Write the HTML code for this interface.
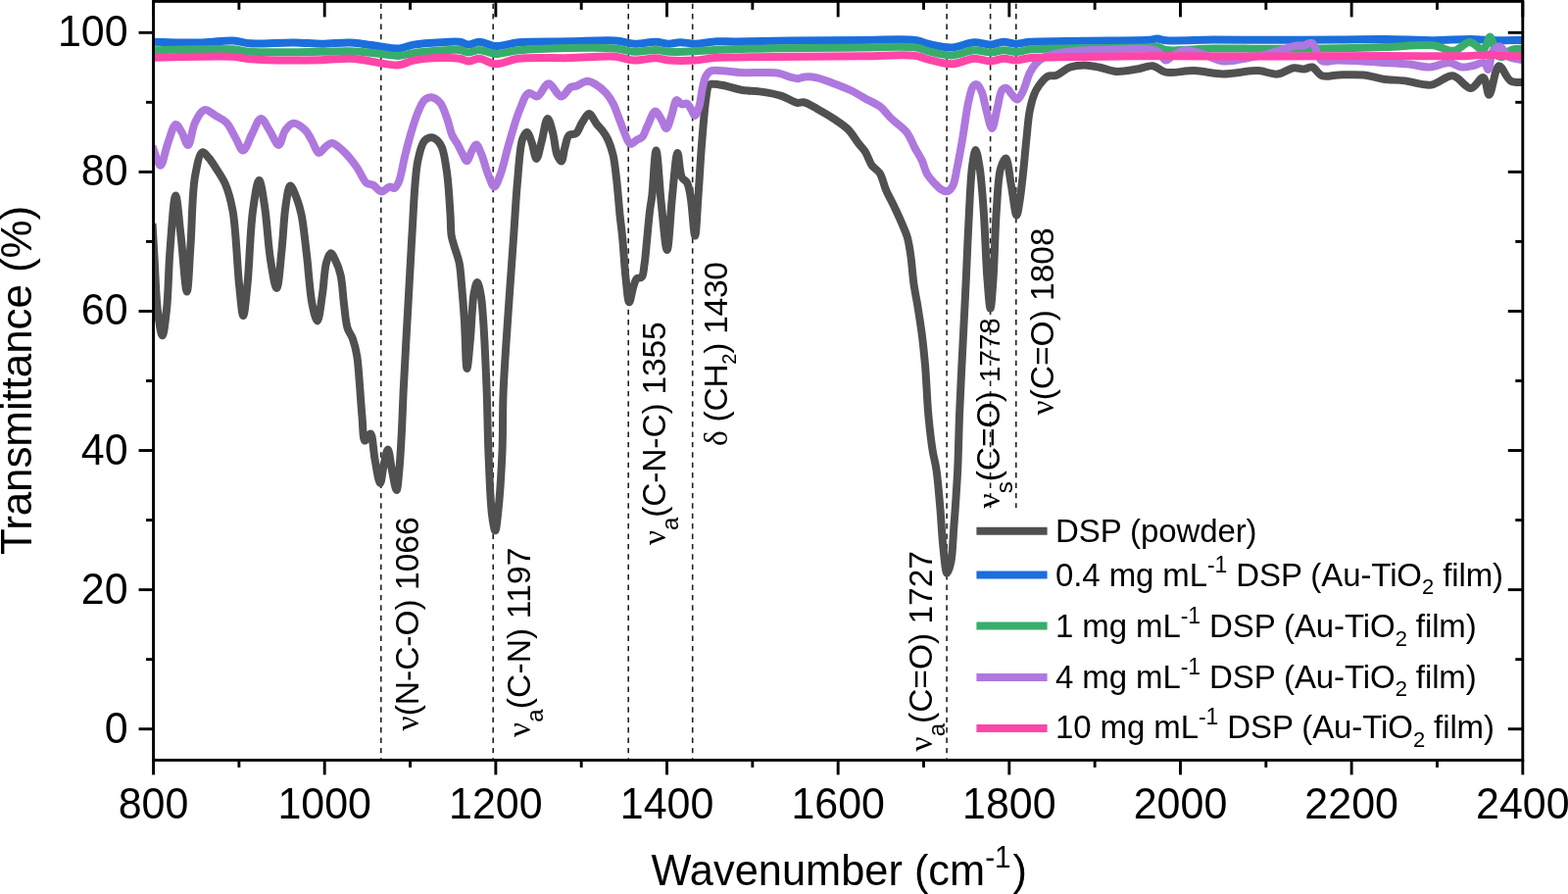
<!DOCTYPE html><html><head><meta charset="utf-8"><title>FTIR spectra</title><style>html,body{margin:0;padding:0;background:#fff;overflow:hidden}svg{display:block}</style></head><body>
<svg width="1600" height="912" viewBox="0 0 1600 912">
<rect width="1600" height="912" fill="#fff"/>
<defs><clipPath id="pc"><rect x="156.6" y="0" width="1397.2" height="775"/></clipPath></defs>
<line x1="388.8" y1="3.7" x2="388.8" y2="775.0" stroke="#222" stroke-width="1.6" stroke-dasharray="5.4,5"/>
<line x1="503.2" y1="3.7" x2="503.2" y2="775.0" stroke="#222" stroke-width="1.6" stroke-dasharray="5.4,5"/>
<line x1="641.2" y1="3.7" x2="641.2" y2="775.0" stroke="#222" stroke-width="1.6" stroke-dasharray="5.4,5"/>
<line x1="706.7" y1="3.7" x2="706.7" y2="775.0" stroke="#222" stroke-width="1.6" stroke-dasharray="5.4,5"/>
<line x1="966.1" y1="3.7" x2="966.1" y2="775.0" stroke="#222" stroke-width="1.6" stroke-dasharray="5.4,5"/>
<line x1="1010.6" y1="3.7" x2="1010.6" y2="518.0" stroke="#222" stroke-width="1.6" stroke-dasharray="5.4,5"/>
<line x1="1036.8" y1="3.7" x2="1036.8" y2="518.0" stroke="#222" stroke-width="1.6" stroke-dasharray="5.4,5"/>
<g clip-path="url(#pc)" fill="none" stroke-width="8" stroke-linejoin="round" stroke-linecap="butt">
<path d="M155.5,228.0 C156.2,239.3 156.7,249.3 157.5,262.0 C158.5,278.4 159.1,303.2 161.0,318.0 C162.3,327.8 164.2,342.3 165.7,342.3 C167.2,342.3 168.8,326.6 170.0,316.0 C171.8,299.9 171.9,274.8 173.5,255.0 C175.0,236.0 177.2,199.4 179.2,199.4 C180.9,199.4 182.7,225.3 184.5,240.0 C186.6,257.5 189.0,297.5 190.7,297.5 C192.3,297.5 193.2,267.4 194.5,250.0 C196.0,228.9 195.9,197.2 199.0,180.0 C200.9,169.6 203.2,156.4 206.5,155.4 C208.4,154.8 210.9,158.7 213.0,161.0 C215.5,163.7 217.5,167.2 220.0,171.0 C223.1,175.9 227.2,181.5 230.0,188.0 C233.3,195.8 235.4,203.6 237.5,215.0 C240.9,233.6 241.9,270.3 244.0,290.0 C245.4,302.9 246.8,322.0 248.2,322.0 C249.6,322.0 251.2,302.9 252.5,290.0 C254.5,270.3 255.3,234.5 258.0,215.0 C259.8,202.4 262.3,184.0 264.4,184.0 C266.3,184.0 268.3,199.7 270.0,210.0 C272.4,224.9 273.5,249.6 276.0,265.0 C277.8,276.3 280.5,294.1 282.3,294.0 C284.4,293.9 286.0,268.5 287.5,255.0 C289.1,240.6 289.6,222.0 291.5,210.0 C292.8,201.8 294.0,189.8 296.2,189.5 C298.0,189.3 301.1,198.2 303.0,203.0 C304.9,208.0 306.1,212.2 307.5,218.7 C309.7,229.1 311.2,245.6 313.0,260.0 C314.9,275.9 316.0,297.7 318.5,310.0 C320.0,317.4 322.2,327.6 323.8,327.5 C325.8,327.4 327.5,309.5 329.0,300.0 C330.6,289.8 330.9,275.5 333.0,268.0 C334.2,263.7 335.9,258.4 337.5,258.3 C338.9,258.2 340.6,262.2 342.0,265.0 C344.0,269.0 346.1,274.3 347.5,280.4 C349.4,288.6 349.8,300.8 351.0,310.2 C352.1,318.8 352.6,328.3 354.6,334.7 C356.0,339.1 358.3,341.2 359.8,345.3 C361.6,350.3 363.1,356.3 364.2,362.8 C365.6,370.8 366.0,380.4 366.8,390.0 C367.7,400.9 368.5,414.4 369.5,425.0 C370.3,433.9 370.3,449.1 372.1,449.6 C372.9,449.8 374.0,447.2 375.0,446.0 C376.0,444.8 377.3,442.3 378.2,442.6 C380.4,443.3 380.9,460.4 382.6,469.0 C384.2,477.2 386.3,493.0 387.9,493.0 C389.3,493.0 390.2,480.9 391.5,475.0 C392.8,469.3 394.5,458.4 395.8,458.4 C397.3,458.4 398.5,473.0 400.0,480.0 C401.4,486.8 403.4,500.1 404.6,500.0 C405.9,499.9 406.7,486.2 407.5,478.0 C408.5,467.6 409.1,454.9 409.8,442.6 C410.5,429.1 410.8,416.5 411.6,400.0 C412.7,377.3 414.5,345.8 416.0,319.0 C417.5,292.5 418.7,266.1 420.4,240.0 C422.1,214.5 422.8,181.4 426.3,164.2 C428.2,155.0 430.0,147.2 433.3,143.5 C435.3,141.3 438.2,140.2 440.4,140.2 C442.4,140.2 444.4,141.6 446.0,143.0 C447.9,144.7 449.5,146.9 450.9,150.2 C453.4,156.1 454.7,166.6 456.1,176.5 C457.9,189.2 458.8,208.7 459.6,220.4 C460.1,228.2 459.8,234.5 460.6,240.0 C461.2,244.1 462.2,246.6 463.3,250.5 C464.7,255.6 467.3,261.6 468.6,268.0 C470.1,275.4 470.4,283.7 471.2,292.6 C472.2,303.3 473.1,315.1 473.9,327.7 C474.9,342.5 475.3,376.0 476.5,376.0 C477.5,376.0 478.9,356.3 480.0,345.0 C481.3,331.4 481.7,310.2 483.5,300.0 C484.5,294.6 485.8,287.9 487.0,287.9 C488.2,287.9 489.6,295.1 490.5,300.0 C491.9,307.3 492.4,316.3 493.2,327.7 C494.5,346.1 495.8,377.0 496.7,400.0 C497.5,421.0 497.5,439.8 498.4,460.2 C499.3,481.4 500.2,510.6 502.0,525.0 C502.9,532.3 504.3,541.3 505.3,541.3 C506.6,541.3 507.9,525.4 509.0,515.0 C510.5,500.1 511.7,478.9 512.5,460.2 C513.3,440.6 512.7,421.5 513.6,400.0 C514.6,375.0 516.8,345.8 518.6,319.0 C520.4,292.5 522.5,263.9 524.2,240.0 C525.6,220.1 526.4,202.5 528.0,185.3 C529.5,169.8 530.3,149.4 533.3,141.4 C534.6,138.0 536.3,134.8 537.7,134.9 C539.4,135.0 541.0,141.1 542.5,145.0 C544.3,149.8 545.7,161.9 547.4,161.9 C549.1,161.9 550.8,151.1 552.5,145.0 C554.6,137.7 556.6,121.0 558.8,120.9 C560.5,120.8 562.5,129.7 564.0,135.0 C565.9,141.7 566.4,152.8 568.5,158.0 C569.7,161.0 571.6,164.8 572.8,164.6 C574.5,164.3 575.1,154.6 576.5,150.0 C577.8,145.7 578.3,140.1 580.7,137.9 C582.5,136.3 585.7,137.6 587.7,136.1 C590.4,134.1 591.7,128.4 594.0,125.0 C596.2,121.8 598.6,116.0 601.0,116.0 C603.6,116.0 606.5,123.5 609.0,126.7 C611.1,129.3 613.1,131.2 615.0,133.7 C617.0,136.4 618.8,139.0 620.4,142.5 C622.4,146.9 624.2,152.3 625.6,158.2 C627.3,165.4 628.0,173.7 629.1,182.8 C630.4,193.9 631.5,209.2 632.6,220.0 C633.5,228.3 634.3,233.5 635.1,242.1 C636.3,253.9 637.2,272.1 638.6,284.2 C639.6,293.4 640.6,308.2 642.1,308.3 C643.3,308.4 644.8,297.0 646.3,292.6 C647.4,289.3 648.1,285.8 649.8,284.2 C651.1,283.0 653.5,284.1 654.7,282.8 C656.7,280.7 656.7,275.3 657.5,270.2 C658.7,262.7 659.4,251.5 660.4,242.1 C661.3,232.7 662.2,221.7 663.2,214.0 C663.9,208.5 664.6,206.0 665.3,200.0 C666.6,189.0 668.0,153.5 669.5,153.5 C671.2,153.5 673.0,192.3 675.0,210.0 C676.8,225.9 678.9,255.0 680.7,255.0 C682.6,255.0 684.1,217.3 686.0,200.0 C687.7,184.5 689.5,156.0 691.4,156.0 C692.8,156.0 693.2,176.0 695.8,181.0 C697.2,183.7 699.6,183.9 701.0,186.3 C702.9,189.7 703.5,194.5 704.6,200.4 C706.4,210.3 707.9,240.5 709.2,240.5 C710.5,240.5 711.4,214.4 712.5,200.0 C713.7,183.7 714.6,164.7 716.0,147.7 C717.3,131.5 718.8,111.3 720.4,100.4 C721.3,94.5 721.6,89.0 723.2,87.0 C724.0,86.1 724.7,86.0 726.0,85.8 C728.5,85.4 733.2,86.2 737.5,87.0 C743.0,88.0 750.0,90.6 756.3,91.7 C762.5,92.8 768.5,92.5 775.0,93.4 C782.2,94.4 791.4,95.9 797.5,97.9 C802.0,99.4 805.7,101.8 808.8,103.1 C810.8,103.9 812.2,104.8 814.0,105.0 C815.9,105.2 817.7,103.9 820.0,104.3 C823.7,104.9 828.9,108.3 833.7,110.9 C839.2,113.9 845.8,117.8 851.2,121.4 C856.2,124.8 861.2,127.8 865.3,131.9 C869.4,136.0 872.6,141.9 875.8,146.0 C878.3,149.3 880.6,151.3 882.8,154.7 C885.4,158.7 887.0,165.0 889.8,168.8 C892.1,172.0 895.5,173.3 897.7,176.7 C900.5,181.0 901.5,187.7 903.9,193.3 C906.4,199.2 909.8,205.1 912.6,211.0 C915.3,216.8 918.2,222.9 920.5,228.4 C922.6,233.3 924.6,237.6 926.0,242.6 C927.5,248.0 928.2,253.4 929.2,260.0 C930.5,268.6 931.2,280.8 932.5,290.0 C933.6,297.8 935.0,303.7 936.3,311.6 C937.8,321.1 939.7,332.7 941.0,343.2 C942.3,353.7 943.2,363.0 944.2,374.7 C945.4,389.3 946.0,408.9 947.4,424.0 C948.6,436.8 950.0,449.3 951.6,459.4 C952.8,467.0 954.4,471.4 955.5,479.2 C957.1,490.1 958.2,505.5 959.4,518.6 C960.5,531.7 961.1,546.1 962.4,558.0 C963.5,567.8 964.7,584.6 966.4,584.8 C967.5,584.9 969.3,578.6 970.3,573.8 C972.1,565.4 972.3,551.6 973.3,538.3 C974.6,521.1 976.2,498.6 977.2,479.2 C978.1,460.5 978.3,441.9 979.0,424.0 C979.7,407.1 980.5,391.0 981.3,374.7 C982.1,358.8 982.9,343.2 983.7,327.4 C984.5,311.6 985.2,297.0 986.0,280.0 C986.9,260.0 987.9,234.7 989.0,215.0 C989.9,198.6 990.5,181.4 992.0,170.0 C993.0,162.9 994.3,153.0 995.5,153.0 C996.8,153.0 998.3,162.9 999.5,170.0 C1001.4,181.4 1002.5,198.3 1003.7,215.0 C1005.2,235.8 1006.0,266.6 1007.5,285.0 C1008.5,297.0 1009.6,314.7 1010.6,314.7 C1011.6,314.7 1012.6,297.0 1013.5,285.0 C1014.8,266.6 1015.3,235.5 1016.8,215.0 C1018.0,198.9 1018.3,181.4 1021.0,172.0 C1022.4,167.1 1024.8,161.2 1026.3,161.4 C1028.7,161.7 1030.0,179.3 1031.8,188.7 C1033.7,198.7 1035.8,219.7 1037.4,219.7 C1038.5,219.7 1039.6,210.6 1040.5,205.0 C1041.7,197.7 1042.6,188.9 1043.7,179.5 C1045.0,167.8 1046.3,151.8 1047.6,140.0 C1048.6,130.3 1049.1,121.4 1050.6,113.7 C1051.8,107.5 1053.2,101.7 1055.0,97.0 C1056.4,93.3 1057.8,90.5 1060.0,87.5 C1062.4,84.1 1065.9,79.4 1069.2,77.8 C1071.8,76.5 1074.4,78.0 1077.4,77.0 C1081.7,75.6 1087.0,70.3 1092.0,68.5 C1096.7,66.9 1101.7,66.4 1106.6,66.4 C1111.5,66.4 1116.1,67.5 1121.2,68.5 C1126.9,69.6 1132.9,72.5 1139.1,72.9 C1145.8,73.3 1153.6,71.5 1160.2,70.5 C1166.0,69.6 1171.5,66.5 1176.5,67.2 C1181.2,67.8 1184.1,72.6 1189.5,73.7 C1197.1,75.3 1209.0,71.8 1218.7,72.1 C1228.5,72.4 1237.7,75.3 1248.0,75.4 C1259.3,75.5 1273.6,71.7 1283.7,72.1 C1291.3,72.4 1297.2,76.2 1303.5,75.6 C1309.4,75.0 1315.4,69.8 1320.4,69.2 C1324.1,68.8 1327.3,70.8 1330.5,70.6 C1333.5,70.4 1336.2,67.8 1339.0,68.5 C1342.4,69.3 1344.9,75.9 1349.0,77.3 C1353.7,78.9 1359.8,76.6 1366.0,76.5 C1373.6,76.3 1383.3,75.7 1391.2,76.5 C1398.4,77.2 1404.6,79.7 1411.5,80.7 C1418.6,81.7 1425.7,81.5 1433.4,82.4 C1441.9,83.4 1452.0,87.6 1460.4,86.6 C1468.3,85.6 1475.6,76.6 1482.4,77.3 C1489.0,78.0 1495.4,90.3 1500.9,90.0 C1505.6,89.7 1510.5,78.2 1513.6,79.0 C1516.8,79.9 1517.3,96.7 1519.5,96.7 C1522.4,96.7 1525.3,67.9 1529.6,67.2 C1533.0,66.6 1536.6,79.7 1541.4,82.4 C1545.6,84.8 1551.1,83.5 1556.0,84.1" stroke="#505050"/>
<path d="M155.0,42.8 C172.1,43.0 191.2,43.8 206.3,43.4 C218.2,43.1 229.3,41.0 238.2,41.5 C244.7,41.8 248.0,43.8 255.0,44.3 C266.3,45.1 286.7,43.2 300.0,43.4 C310.5,43.5 318.8,44.7 328.2,44.7 C337.6,44.7 348.8,43.2 356.4,43.4 C361.6,43.5 364.7,44.1 369.5,44.7 C375.2,45.4 382.0,46.7 388.3,47.5 C394.5,48.3 401.1,49.8 407.0,49.4 C412.3,49.0 416.2,46.6 422.0,45.6 C429.8,44.3 441.6,43.6 450.0,43.2 C456.9,42.8 463.9,42.1 469.0,42.8 C472.6,43.3 474.8,45.5 478.0,45.6 C481.5,45.7 484.9,42.8 489.0,42.8 C494.1,42.8 499.9,46.9 506.0,47.1 C513.1,47.4 519.8,44.1 529.0,43.2 C542.8,41.9 564.1,42.6 581.0,42.3 C597.1,42.0 615.9,40.6 628.0,41.5 C635.8,42.1 640.4,44.4 647.0,44.7 C654.2,45.0 663.0,42.6 669.5,42.8 C674.5,42.9 678.4,44.7 682.6,44.7 C686.5,44.7 689.9,43.3 694.0,43.2 C698.7,43.1 703.5,44.7 709.0,44.7 C715.6,44.7 723.9,42.7 731.0,42.3 C737.6,42.0 742.0,42.4 750.0,42.4 C763.7,42.3 786.0,41.7 806.0,41.5 C829.2,41.2 858.2,41.1 881.0,41.0 C900.2,40.9 922.4,39.4 934.0,41.0 C939.9,41.8 941.9,43.6 947.0,44.7 C953.8,46.2 963.5,48.7 971.4,48.4 C979.1,48.1 986.9,43.5 993.9,43.2 C999.9,42.9 1005.5,45.8 1010.8,45.6 C1015.5,45.4 1019.5,42.9 1023.9,42.8 C1028.3,42.7 1032.6,44.7 1037.0,44.7 C1041.3,44.7 1044.1,43.3 1050.0,42.8 C1062.1,41.8 1086.6,42.0 1106.0,41.7 C1127.1,41.3 1160.1,41.7 1172.0,40.8 C1176.4,40.5 1178.0,39.5 1181.0,39.6 C1184.0,39.7 1185.8,40.9 1190.0,41.2 C1199.6,42.0 1221.0,40.7 1238.0,40.6 C1257.3,40.5 1279.1,40.8 1300.0,40.8 C1321.4,40.8 1344.9,40.5 1365.0,40.4 C1382.5,40.3 1397.8,39.9 1414.0,40.0 C1430.1,40.1 1446.9,41.2 1462.0,41.2 C1475.4,41.2 1488.4,39.9 1500.0,40.0 C1509.8,40.1 1517.8,41.0 1527.0,41.2 C1536.5,41.4 1546.3,41.1 1556.0,41.0" stroke="#1b6fdd"/>
<path d="M155.0,51.3 C182.7,51.0 221.0,49.1 238.2,50.3 C246.0,50.8 247.4,52.2 255.0,52.8 C270.8,54.0 309.5,53.0 328.2,52.8 C339.8,52.7 348.8,52.0 356.4,52.2 C361.6,52.3 364.7,52.6 369.5,53.0 C375.2,53.5 382.0,54.3 388.3,55.0 C394.5,55.6 401.1,57.1 407.0,56.9 C412.3,56.7 416.2,54.9 422.0,54.1 C429.9,53.0 441.6,52.0 450.0,51.5 C456.9,51.1 463.9,50.4 469.0,51.0 C472.6,51.4 474.8,53.4 478.0,53.5 C481.5,53.6 484.9,50.9 489.0,50.9 C494.1,50.9 499.9,54.8 506.0,55.0 C513.1,55.3 518.6,52.2 529.0,51.3 C550.4,49.4 607.9,47.8 628.0,49.4 C636.9,50.1 640.4,52.5 647.0,52.8 C654.2,53.1 663.0,50.7 669.5,50.9 C674.5,51.0 677.5,52.5 682.6,52.8 C689.9,53.2 699.2,52.6 709.0,52.2 C721.2,51.8 732.5,50.7 750.0,50.1 C781.3,49.1 847.0,48.6 881.0,48.4 C902.6,48.3 922.4,46.7 934.0,48.4 C939.9,49.2 942.0,51.0 947.0,52.2 C953.8,53.8 963.5,56.7 971.4,56.5 C979.1,56.3 986.9,51.6 993.9,51.3 C999.9,51.0 1005.5,53.6 1010.8,53.5 C1015.5,53.4 1019.5,51.4 1023.9,51.3 C1028.3,51.2 1032.7,53.2 1037.0,53.1 C1041.4,53.0 1043.8,51.3 1050.0,50.6 C1064.7,49.0 1102.9,49.4 1125.0,49.0 C1142.5,48.7 1162.5,48.6 1172.0,48.2 C1176.2,48.0 1178.0,47.2 1181.0,47.6 C1184.0,48.1 1185.7,50.3 1190.0,51.0 C1199.6,52.6 1221.0,49.8 1238.0,49.6 C1257.3,49.3 1280.4,49.8 1300.0,49.8 C1317.6,49.8 1332.3,49.9 1350.0,49.6 C1370.0,49.3 1394.2,48.6 1414.0,48.0 C1431.2,47.5 1449.2,44.9 1462.0,46.3 C1470.7,47.2 1477.1,52.6 1483.6,51.8 C1489.6,51.0 1494.8,42.8 1499.9,42.9 C1504.5,43.0 1510.0,51.6 1512.9,51.0 C1514.9,50.6 1515.8,47.2 1517.0,45.0 C1518.3,42.7 1519.0,37.5 1520.2,37.5 C1521.4,37.5 1522.9,42.2 1524.0,45.0 C1525.3,48.3 1525.0,53.9 1527.0,56.0 C1528.5,57.5 1531.0,58.4 1533.0,58.0 C1535.4,57.5 1537.6,53.3 1540.0,52.0 C1542.0,50.9 1543.7,50.4 1546.0,50.0 C1548.9,49.5 1552.7,49.7 1556.0,49.6" stroke="#38ad6b"/>
<path d="M155.5,149.0 C156.2,151.0 156.6,152.6 157.5,155.0 C158.9,158.7 161.7,168.8 163.8,168.7 C166.3,168.6 168.4,154.0 171.0,147.0 C173.6,140.1 176.5,127.4 179.4,127.0 C181.4,126.7 183.6,131.9 185.5,135.0 C187.8,138.7 189.9,148.2 191.9,148.0 C194.5,147.8 195.8,131.3 199.0,125.0 C201.7,119.8 205.0,112.9 208.8,112.1 C212.1,111.4 216.3,115.9 220.0,118.0 C223.7,120.2 227.8,121.7 231.0,125.0 C234.7,128.8 237.1,135.1 240.0,140.0 C242.8,144.6 245.4,153.6 248.1,153.5 C251.1,153.4 254.0,142.4 257.0,137.0 C260.0,131.6 263.1,121.1 266.2,120.9 C269.1,120.8 272.1,128.7 275.0,133.0 C278.2,137.7 281.7,148.1 284.4,147.9 C287.0,147.7 288.2,136.8 291.0,133.0 C293.2,129.9 295.7,126.3 298.8,125.9 C302.3,125.4 308.0,129.5 311.2,132.5 C314.3,135.3 315.7,139.3 318.0,143.0 C320.5,147.1 322.9,155.6 325.6,156.0 C327.6,156.3 329.7,151.7 332.0,150.0 C334.1,148.4 336.2,145.8 338.8,145.9 C342.1,146.0 346.3,150.4 350.0,153.8 C354.6,158.0 359.6,164.4 363.7,170.0 C367.7,175.4 370.6,184.2 374.2,186.9 C376.3,188.5 378.4,187.6 380.6,188.7 C383.4,190.1 386.3,195.3 389.2,195.5 C391.9,195.7 395.0,190.9 397.5,190.6 C399.3,190.4 401.0,192.5 402.5,192.0 C404.3,191.3 405.6,188.4 407.0,185.3 C409.5,179.6 411.1,167.5 413.2,159.0 C415.2,151.1 417.1,143.5 419.3,136.0 C421.5,128.8 423.7,121.1 426.3,115.0 C428.4,110.0 430.4,104.5 433.3,102.0 C435.4,100.2 438.0,99.1 440.4,99.3 C443.2,99.6 446.6,101.9 449.0,104.6 C452.1,108.2 454.0,114.9 456.0,120.4 C458.1,126.0 459.3,133.3 461.4,138.0 C463.0,141.5 465.0,143.6 466.7,146.7 C468.5,150.0 470.3,154.1 472.0,157.2 C473.5,159.8 474.8,164.3 476.3,164.2 C478.0,164.1 479.8,156.7 481.6,153.7 C483.0,151.3 484.5,147.4 486.0,147.5 C487.8,147.6 489.5,153.3 491.2,157.2 C493.6,162.8 495.7,172.2 498.2,178.2 C500.2,182.9 502.3,190.5 504.4,190.5 C506.4,190.5 508.5,183.4 510.5,178.2 C513.6,170.2 516.1,157.3 519.3,146.7 C522.6,135.7 525.9,122.6 529.8,113.3 C532.8,106.1 535.6,96.3 539.5,94.9 C542.1,93.9 545.3,99.1 548.2,98.4 C552.1,97.5 555.6,85.4 559.6,85.3 C563.8,85.1 568.7,98.4 572.8,98.4 C576.3,98.4 579.5,90.3 582.5,88.8 C584.3,87.9 585.7,88.5 587.7,87.9 C590.8,87.0 595.7,82.9 599.3,82.8 C602.4,82.8 605.1,84.6 608.0,86.3 C611.5,88.4 615.6,91.8 618.6,95.1 C621.4,98.3 623.5,101.5 625.6,105.6 C628.2,110.6 630.4,117.7 632.6,123.2 C634.5,128.1 636.0,133.0 637.9,137.2 C639.5,140.8 640.9,146.2 643.2,146.8 C645.2,147.3 648.0,143.7 650.2,142.5 C652.0,141.5 653.9,141.4 655.4,139.8 C657.6,137.5 658.7,132.4 660.7,128.4 C663.0,123.7 666.0,113.7 668.6,113.5 C670.6,113.3 672.8,118.6 674.7,121.4 C676.7,124.4 678.3,131.1 680.0,131.0 C681.9,130.9 683.6,122.5 685.3,117.9 C687.1,112.9 688.2,102.8 690.5,102.1 C692.0,101.7 693.9,106.0 695.8,106.5 C697.4,106.9 699.5,105.0 701.0,105.6 C702.8,106.3 704.0,109.7 705.4,111.8 C706.7,113.8 707.8,117.9 709.0,117.9 C710.4,117.8 712.1,112.7 713.3,109.1 C715.0,104.0 715.5,95.5 716.8,89.8 C717.9,85.2 718.6,80.6 720.4,77.5 C721.8,75.2 723.2,73.3 725.6,72.3 C728.7,71.0 733.4,72.1 737.9,72.3 C743.2,72.6 749.1,73.7 755.4,74.0 C762.9,74.4 772.8,73.8 780.0,74.0 C785.6,74.2 790.4,74.0 795.1,74.9 C799.5,75.7 803.8,78.0 807.4,78.9 C810.0,79.6 812.1,80.3 814.4,80.2 C816.7,80.1 818.7,78.6 821.4,78.4 C824.9,78.1 829.3,78.4 833.7,79.3 C839.1,80.4 845.4,83.2 851.2,85.4 C857.1,87.6 863.3,89.9 868.8,92.5 C873.8,94.9 878.0,97.7 882.8,100.4 C887.9,103.2 894.1,105.6 898.6,109.1 C902.8,112.4 905.1,116.6 909.1,120.5 C913.7,125.1 920.7,129.3 924.9,134.6 C928.8,139.6 930.9,146.1 933.7,151.2 C936.1,155.6 938.7,159.2 940.7,163.5 C942.8,167.9 943.7,173.5 946.0,177.5 C948.0,180.9 950.6,183.6 953.0,186.3 C955.3,188.8 957.6,191.5 960.0,193.0 C962.0,194.3 964.4,195.7 966.3,195.3 C968.4,194.9 970.5,192.6 972.0,190.0 C974.4,186.0 975.0,178.8 976.5,172.0 C978.4,163.3 980.2,152.6 982.1,142.0 C984.2,130.0 986.0,113.7 988.3,103.7 C989.8,97.2 991.0,90.1 993.2,87.7 C994.3,86.5 995.7,85.9 996.9,86.3 C998.7,86.9 1000.4,90.6 1001.8,93.9 C1003.9,98.8 1004.9,107.2 1006.7,113.5 C1008.4,119.5 1010.4,131.0 1012.2,131.0 C1014.1,131.0 1015.9,116.7 1017.7,109.9 C1019.4,103.5 1020.1,94.1 1022.7,91.4 C1024.0,90.1 1025.9,89.6 1027.3,90.0 C1029.2,90.6 1030.7,94.4 1032.5,96.3 C1034.3,98.2 1036.3,101.7 1038.0,101.5 C1039.9,101.3 1041.7,97.2 1043.5,93.9 C1046.1,89.0 1048.2,79.4 1050.9,74.2 C1052.8,70.4 1054.6,67.6 1057.0,65.0 C1059.2,62.6 1061.3,60.7 1064.4,59.0 C1068.6,56.8 1074.6,55.4 1080.6,54.2 C1087.8,52.7 1096.3,52.1 1105.0,51.5 C1115.0,50.8 1126.7,50.8 1137.5,50.5 C1148.3,50.2 1162.0,48.9 1170.0,49.8 C1174.8,50.3 1178.2,50.7 1181.4,52.6 C1184.7,54.6 1186.8,61.2 1189.5,61.6 C1191.7,61.9 1193.4,58.9 1196.0,57.5 C1199.5,55.5 1204.2,51.9 1209.0,51.3 C1214.4,50.6 1220.7,53.3 1226.9,55.0 C1233.9,56.9 1241.1,61.8 1248.8,62.5 C1257.1,63.3 1267.0,60.2 1275.0,58.8 C1281.8,57.6 1287.6,56.6 1293.8,55.0 C1300.1,53.4 1307.3,50.9 1312.5,49.4 C1316.2,48.3 1318.9,47.1 1322.0,46.6 C1324.8,46.2 1327.3,46.9 1330.0,46.5 C1332.9,46.1 1336.2,42.9 1338.8,44.0 C1342.8,45.7 1343.9,59.3 1348.7,62.0 C1353.0,64.4 1358.1,61.5 1365.0,61.6 C1376.9,61.7 1400.3,63.2 1413.7,64.0 C1423.2,64.5 1430.2,64.8 1438.0,65.6 C1445.3,66.3 1452.1,68.8 1459.0,68.5 C1465.7,68.2 1472.9,63.7 1478.7,64.0 C1483.5,64.3 1487.5,68.1 1491.7,68.5 C1495.6,68.9 1499.2,67.7 1503.0,67.0 C1506.8,66.2 1511.9,62.9 1514.5,64.0 C1516.7,64.9 1517.4,71.2 1518.6,71.0 C1520.5,70.7 1520.5,55.8 1523.4,52.0 C1525.3,49.5 1528.4,47.3 1530.7,47.7 C1533.6,48.2 1535.2,55.2 1538.9,57.5 C1543.3,60.2 1550.3,60.2 1556.0,61.6" stroke="#ae78de"/>
<path d="M155.0,58.8 C182.7,58.5 221.0,56.6 238.2,57.8 C246.0,58.3 247.4,59.7 255.0,60.3 C270.8,61.6 309.5,61.6 328.2,61.2 C339.8,61.0 348.8,59.5 356.4,59.7 C361.6,59.8 364.8,60.3 369.5,61.0 C375.2,61.8 382.0,63.5 388.3,64.4 C394.5,65.3 401.2,66.9 407.0,66.3 C412.3,65.8 416.2,62.8 422.0,61.6 C429.8,60.0 441.6,59.2 450.0,59.0 C456.9,58.8 463.9,58.8 469.0,59.7 C472.6,60.3 474.8,62.4 478.0,62.5 C481.5,62.6 485.0,59.6 489.0,59.7 C494.1,59.9 499.9,65.1 506.0,65.3 C513.1,65.6 519.7,60.9 529.0,59.7 C542.8,58.0 564.1,59.4 581.0,59.1 C597.1,58.8 615.9,56.8 628.0,57.8 C635.8,58.5 640.4,61.3 647.0,61.6 C654.2,61.9 663.0,59.1 669.5,59.3 C674.5,59.5 677.5,61.2 682.6,61.6 C689.9,62.2 700.6,62.1 709.0,61.6 C716.7,61.1 723.9,59.3 731.0,58.8 C737.6,58.3 740.8,58.5 750.0,58.4 C774.1,58.0 847.0,57.6 881.0,57.3 C902.6,57.1 922.4,55.3 934.0,56.9 C939.9,57.7 942.0,59.4 947.0,60.6 C953.8,62.2 963.5,65.5 971.4,65.3 C979.1,65.1 986.9,60.0 993.9,59.7 C999.9,59.5 1005.5,62.6 1010.8,62.5 C1015.5,62.4 1019.5,59.8 1023.9,59.7 C1028.3,59.6 1032.6,61.7 1037.0,61.6 C1041.3,61.5 1043.8,59.8 1050.0,59.2 C1064.7,57.7 1101.8,58.1 1125.0,57.8 C1145.0,57.5 1162.3,57.3 1181.0,57.3 C1199.9,57.3 1218.6,57.6 1238.0,57.6 C1258.2,57.6 1276.2,57.5 1300.0,57.4 C1332.3,57.3 1379.2,57.0 1414.0,57.0 C1443.3,57.0 1475.5,57.7 1495.0,57.2 C1506.1,56.9 1513.7,55.6 1521.0,55.8 C1526.4,55.9 1529.9,56.9 1535.0,57.2 C1541.3,57.5 1549.0,57.2 1556.0,57.2" stroke="#ff45a8"/>
</g>
<g stroke="#000" stroke-width="2.9" fill="none" stroke-linecap="butt">
<rect x="156.55" y="1.4" width="1397.25" height="774.05"/>
<line x1="156.55" y1="775.4" x2="156.55" y2="790.40"/>
<line x1="156.55" y1="1.4" x2="156.55" y2="17.40"/>
<line x1="243.88" y1="775.4" x2="243.88" y2="782.90"/>
<line x1="243.88" y1="1.4" x2="243.88" y2="9.90"/>
<line x1="331.21" y1="775.4" x2="331.21" y2="790.40"/>
<line x1="331.21" y1="1.4" x2="331.21" y2="17.40"/>
<line x1="418.53" y1="775.4" x2="418.53" y2="782.90"/>
<line x1="418.53" y1="1.4" x2="418.53" y2="9.90"/>
<line x1="505.86" y1="775.4" x2="505.86" y2="790.40"/>
<line x1="505.86" y1="1.4" x2="505.86" y2="17.40"/>
<line x1="593.19" y1="775.4" x2="593.19" y2="782.90"/>
<line x1="593.19" y1="1.4" x2="593.19" y2="9.90"/>
<line x1="680.52" y1="775.4" x2="680.52" y2="790.40"/>
<line x1="680.52" y1="1.4" x2="680.52" y2="17.40"/>
<line x1="767.85" y1="775.4" x2="767.85" y2="782.90"/>
<line x1="767.85" y1="1.4" x2="767.85" y2="9.90"/>
<line x1="855.17" y1="775.4" x2="855.17" y2="790.40"/>
<line x1="855.17" y1="1.4" x2="855.17" y2="17.40"/>
<line x1="942.50" y1="775.4" x2="942.50" y2="782.90"/>
<line x1="942.50" y1="1.4" x2="942.50" y2="9.90"/>
<line x1="1029.83" y1="775.4" x2="1029.83" y2="790.40"/>
<line x1="1029.83" y1="1.4" x2="1029.83" y2="17.40"/>
<line x1="1117.16" y1="775.4" x2="1117.16" y2="782.90"/>
<line x1="1117.16" y1="1.4" x2="1117.16" y2="9.90"/>
<line x1="1204.49" y1="775.4" x2="1204.49" y2="790.40"/>
<line x1="1204.49" y1="1.4" x2="1204.49" y2="17.40"/>
<line x1="1291.82" y1="775.4" x2="1291.82" y2="782.90"/>
<line x1="1291.82" y1="1.4" x2="1291.82" y2="9.90"/>
<line x1="1379.14" y1="775.4" x2="1379.14" y2="790.40"/>
<line x1="1379.14" y1="1.4" x2="1379.14" y2="17.40"/>
<line x1="1466.47" y1="775.4" x2="1466.47" y2="782.90"/>
<line x1="1466.47" y1="1.4" x2="1466.47" y2="9.90"/>
<line x1="1553.80" y1="775.4" x2="1553.80" y2="790.40"/>
<line x1="1553.80" y1="1.4" x2="1553.80" y2="17.40"/>
<line x1="156.55" y1="743.70" x2="141.55" y2="743.70"/>
<line x1="1553.80" y1="743.70" x2="1538.80" y2="743.70"/>
<line x1="156.55" y1="672.66" x2="149.05" y2="672.66"/>
<line x1="1553.80" y1="672.66" x2="1546.30" y2="672.66"/>
<line x1="156.55" y1="601.62" x2="141.55" y2="601.62"/>
<line x1="1553.80" y1="601.62" x2="1538.80" y2="601.62"/>
<line x1="156.55" y1="530.58" x2="149.05" y2="530.58"/>
<line x1="1553.80" y1="530.58" x2="1546.30" y2="530.58"/>
<line x1="156.55" y1="459.54" x2="141.55" y2="459.54"/>
<line x1="1553.80" y1="459.54" x2="1538.80" y2="459.54"/>
<line x1="156.55" y1="388.50" x2="149.05" y2="388.50"/>
<line x1="1553.80" y1="388.50" x2="1546.30" y2="388.50"/>
<line x1="156.55" y1="317.46" x2="141.55" y2="317.46"/>
<line x1="1553.80" y1="317.46" x2="1538.80" y2="317.46"/>
<line x1="156.55" y1="246.42" x2="149.05" y2="246.42"/>
<line x1="1553.80" y1="246.42" x2="1546.30" y2="246.42"/>
<line x1="156.55" y1="175.38" x2="141.55" y2="175.38"/>
<line x1="1553.80" y1="175.38" x2="1538.80" y2="175.38"/>
<line x1="156.55" y1="104.34" x2="149.05" y2="104.34"/>
<line x1="1553.80" y1="104.34" x2="1546.30" y2="104.34"/>
<line x1="156.55" y1="33.30" x2="141.55" y2="33.30"/>
<line x1="1553.80" y1="33.30" x2="1538.80" y2="33.30"/>
</g>
<g font-family="Liberation Sans, Arial, sans-serif" fill="#000">
<text font-size="45" text-anchor="end" transform="translate(130.60,757.70) scale(0.955,1)">0</text>
<text font-size="45" text-anchor="end" transform="translate(130.60,615.62) scale(0.955,1)">20</text>
<text font-size="45" text-anchor="end" transform="translate(130.60,473.54) scale(0.955,1)">40</text>
<text font-size="45" text-anchor="end" transform="translate(130.60,331.46) scale(0.955,1)">60</text>
<text font-size="45" text-anchor="end" transform="translate(130.60,189.38) scale(0.955,1)">80</text>
<text font-size="45" text-anchor="end" transform="translate(130.60,47.30) scale(0.955,1)">100</text>
<text font-size="45" text-anchor="middle" transform="translate(156.55,835) scale(0.955,1)">800</text>
<text font-size="45" text-anchor="middle" transform="translate(331.21,835) scale(0.955,1)">1000</text>
<text font-size="45" text-anchor="middle" transform="translate(505.86,835) scale(0.955,1)">1200</text>
<text font-size="45" text-anchor="middle" transform="translate(680.52,835) scale(0.955,1)">1400</text>
<text font-size="45" text-anchor="middle" transform="translate(855.17,835) scale(0.955,1)">1600</text>
<text font-size="45" text-anchor="middle" transform="translate(1029.83,835) scale(0.955,1)">1800</text>
<text font-size="45" text-anchor="middle" transform="translate(1204.49,835) scale(0.955,1)">2000</text>
<text font-size="45" text-anchor="middle" transform="translate(1379.14,835) scale(0.955,1)">2200</text>
<text font-size="45" text-anchor="middle" transform="translate(1553.80,835) scale(0.955,1)">2400</text>
<text font-size="44.5" transform="translate(664.5,903.2) scale(0.975,1)">Wavenumber (cm<tspan font-size="30.5" dy="-17.8">-1</tspan><tspan dy="17.8" dx="2">)</tspan></text>
<text font-size="44" letter-spacing="-0.1" transform="translate(31.8,566) rotate(-90)">Transmittance (%)</text>
</g>
<g font-family="Liberation Sans, Arial, sans-serif" font-size="33" fill="#000">
<line x1="996.4" y1="541.7" x2="1068.6" y2="541.7" stroke="#505050" stroke-width="8"/>
<text x="1077" y="553.0" letter-spacing="-0.1">DSP (powder)</text>
<line x1="996.4" y1="586.5" x2="1068.6" y2="586.5" stroke="#1b6fdd" stroke-width="8"/>
<text x="1077" y="597.7" letter-spacing="-0.1">0.4 mg mL<tspan font-size="23" dy="-13.8">-1</tspan><tspan dy="13.8"> DSP (Au-TiO</tspan><tspan font-size="22" dy="8.6">2</tspan><tspan dy="-8.6"> film)</tspan></text>
<line x1="996.4" y1="638.6" x2="1068.6" y2="638.6" stroke="#38ad6b" stroke-width="8"/>
<text x="1077" y="649.9" letter-spacing="-0.1">1 mg mL<tspan font-size="23" dy="-13.8">-1</tspan><tspan dy="13.8"> DSP (Au-TiO</tspan><tspan font-size="22" dy="8.6">2</tspan><tspan dy="-8.6"> film)</tspan></text>
<line x1="996.4" y1="690.9" x2="1068.6" y2="690.9" stroke="#ae78de" stroke-width="8"/>
<text x="1077" y="701.5" letter-spacing="-0.1">4 mg mL<tspan font-size="23" dy="-13.8">-1</tspan><tspan dy="13.8"> DSP (Au-TiO</tspan><tspan font-size="22" dy="8.6">2</tspan><tspan dy="-8.6"> film)</tspan></text>
<line x1="996.4" y1="742.9" x2="1068.6" y2="742.9" stroke="#ff45a8" stroke-width="8"/>
<text x="1077" y="753.2" letter-spacing="-0.1">10 mg mL<tspan font-size="23" dy="-13.8">-1</tspan><tspan dy="13.8"> DSP (Au-TiO</tspan><tspan font-size="22" dy="8.6">2</tspan><tspan dy="-8.6"> film)</tspan></text>
</g>
<g font-family="Liberation Sans, Arial, sans-serif" font-size="33.5" fill="#000">
<text transform="translate(426.5,745.5) rotate(-90)"><tspan font-family="Liberation Serif, serif">&#957;</tspan>(N-C-O) 1066</text>
<text transform="translate(541.0,752.0) rotate(-90)" letter-spacing="0.15"><tspan font-family="Liberation Serif, serif">&#957;</tspan><tspan font-size="24" dy="12.8">a</tspan><tspan dy="-12.8">(C-N) 1197</tspan></text>
<text transform="translate(679.0,556.0) rotate(-90)" letter-spacing="-0.14"><tspan font-family="Liberation Serif, serif">&#957;</tspan><tspan font-size="24" dy="12.8">a</tspan><tspan dy="-12.8">(C-N-C) 1355</tspan></text>
<text transform="translate(742.4,455.0) rotate(-90)" letter-spacing="-0.26"><tspan font-family="Liberation Serif, serif">&#948;</tspan> (CH<tspan font-size="20" dy="8.3">2</tspan><tspan dy="-8.3">) 1430</tspan></text>
<text transform="translate(951.4,766.5) rotate(-90)"><tspan font-family="Liberation Serif, serif">&#957;</tspan><tspan font-size="24" dy="12.8">a</tspan><tspan dy="-12.8">(C=O) 1727</tspan></text>
<text transform="translate(1020.2,518.5) rotate(-90)"><tspan font-family="Liberation Serif, serif">&#957;</tspan><tspan font-size="24" dy="12.8">s</tspan><tspan dy="-12.8">(C=O) </tspan><tspan font-size="29.5">1778</tspan></text>
<text transform="translate(1075.0,423.5) rotate(-90)"><tspan font-family="Liberation Serif, serif">&#957;</tspan>(C=O) 1808</text>
</g>
</svg></body></html>
